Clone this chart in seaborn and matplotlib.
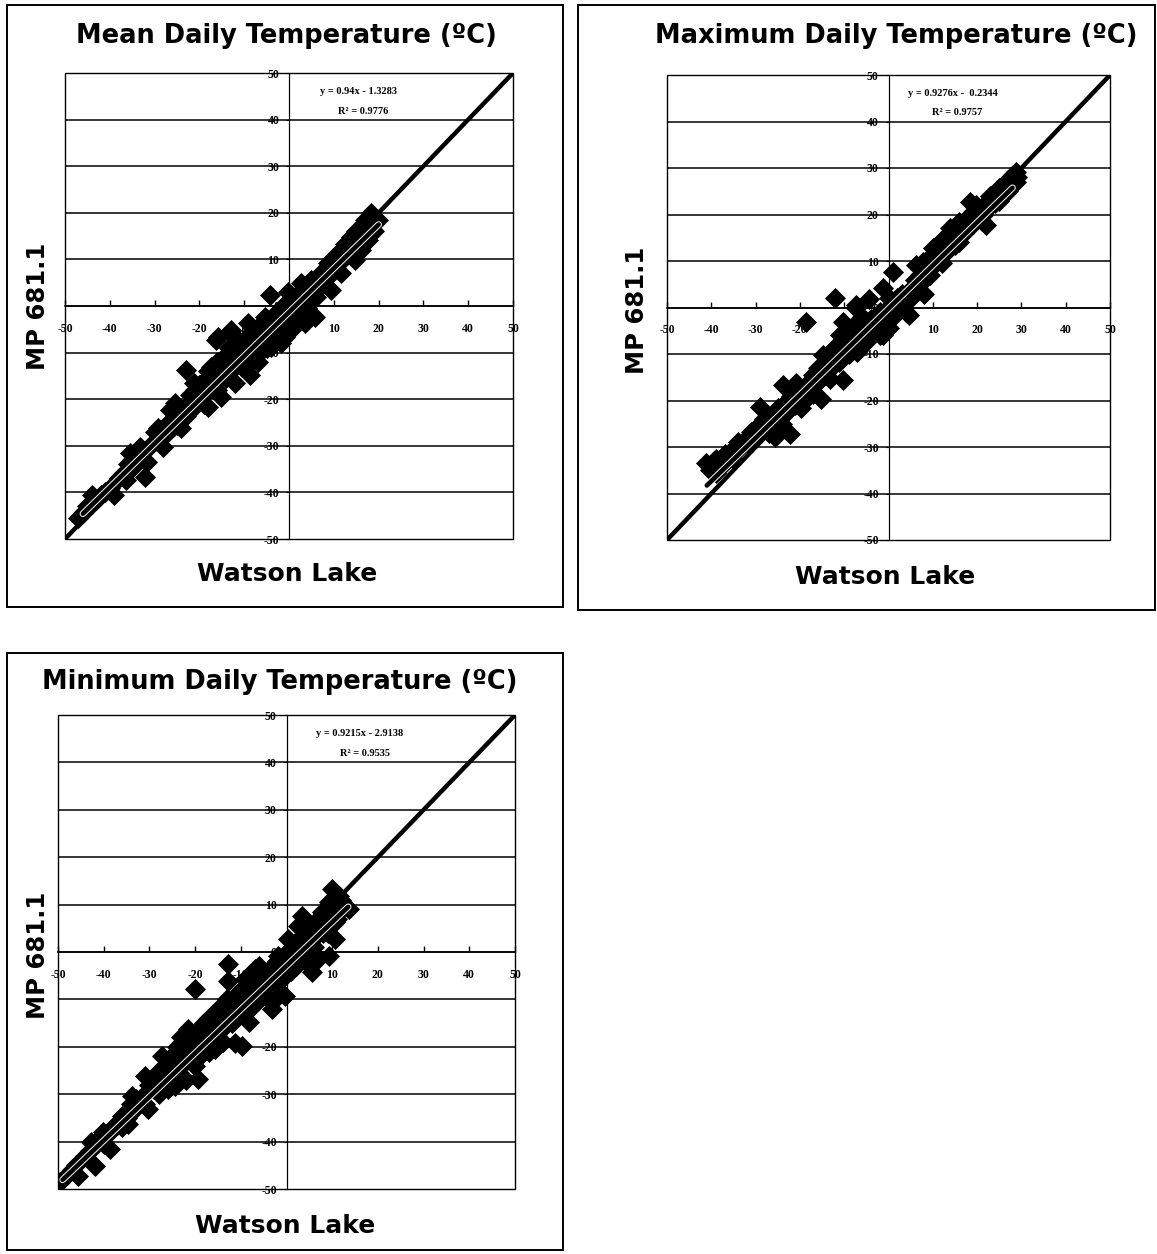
import matplotlib
matplotlib.use("Agg")
import matplotlib.pyplot as plt
import seaborn as sns
import pandas as pd
from matplotlib import patheffects as pe
from matplotlib.patches import Rectangle

# ---------------- data ----------------
mean_x = [-47, -46, -45, -44, -43, -42, -41, -39, -38, -37, -36.3, -35.6, -35, -34.8, -34, -33.3,
          -32.2, -31.8, -31, -30, -29.2, -28.1, -28, -27, -26.6, -26, -25.5, -25, -24, -24, -23,
          -22.9, -22, -21.1, -21, -20, -20, -19, -18.8, -18.1, -18, -17.3, -17, -16.2, -16, -15.8,
          -15.1, -15, -14.4, -14, -13.5, -12.9, -12.9, -12.1, -12, -11.4, -11, -10.5, -10, -9.9,
          -9.2, -9, -8.8, -8.4, -8, -7.5, -6.9, -6.9, -6, -5.4, -5, -4.3, -4, -4, -3, -2.5, -2,
          -1.7, -1, -1, -0.2, 0, 0.5, 1, 1.3, 2, 2.7, 3, 3.5, 4, 4.2, 5, 5.7, 6, 7.2, 8, 8.7, 9.4,
          10, 10.9, 11.7, 12, 12.4, 13, 13.9, 14.7, 15, 16.1, 16.1, 16.9, 17.6, 18, 18.4, 19, 19.9,
          -44, -40, -36, -33, -30, -29, -27, -26, -25, -23, -22, -21, -19, -19, -18, -17, -16, -16,
          -15, -14, -13, -13, -12, -11, -10, -9, -8, -7, -7, -6, -5, -4, -3, -3, -2, -1, 0, 1, 2, 3,
          4, 5, 6, 7, 9, 11, 12, 14, 15, 17, 18, 19]
mean_y = [-45.5, -44.5, -43, -40.6, -41.6, -40.5, -40, -40.6, -37, -36, -37.3, -31.6, -33, -34.5, -32, -30.2,
          -36.6, -33.4, -30, -29, -26.2, -30.2, -27.5, -25, -22.3, -24.5, -20.9, -23, -26.2, -22, -21.5,
          -13.7, -19, -16.6, -20.5, -19, -17, -16, -18, -21.6, -14, -13, -17.5, -7.3, -12, -6.6,
          -19.5, -15, -10.9, -13.5, -9, -5.9, -5.2, -16.6, -12, -7.3, -10, -13, -8, -10.2,
          -3.7, -12, -14.8, -5.9, -8.5, -11, -8, -4.4, -6, -2.3, -9, 2.4, -8.7, -3, -5, -5.9, -2,
          -8, -6.6, -3, 3.1, -1, -5.2, -2, 2, 0, 4.9, 1, -3.7, 2.5, 0.6, 3, -2.3, 5, 7, 6, 9.2, 3.4,
          8, 11.3, 7, 10, 13.4, 11, 14.9, 9.9, 13, 12, 16.3, 18.5, 14.2, 17, 19.9, 16, 18.5,
          -42.5, -39, -34, -31.5, -27, -28.5, -27, -26, -25.5, -23.5, -22.5, -18, -19, -21, -17, -15, -15.5, -18,
          -12.5, -15.5, -11, -14, -9.5, -12, -10, -7, -10, -6.5, -12, -9.5, -6.5, -4.5, -7, -1.5, -4, 0.5, -3.5, 0.5, -2.5, 3.5,
          -0.5, 5.5, 2, 4, 6.5, 9, 12, 12.5, 16, 15.5, 18.5, 18]

max_x = [-41.2, -40.4, -39.5, -38.9, -38, -37, -36, -35, -33.6, -32, -31.8, -31, -30, -29.1, -29.1,
         -28, -27, -26, -25.7, -25, -25, -24, -23.9, -23, -22.3, -22, -21, -20.8, -20, -19.7, -18.6,
         -18, -17.1, -17, -16, -15.2, -15, -14.8, -14, -13.3, -13, -12, -12, -11.1, -11, -10.3,
         -10.3, -10, -9.5, -9, -8, -8, -7.3, -7.3, -7, -6.5, -6, -5, -5, -4.3, -4, -3, -2.8, -2,
         -1.3, -1.3, -1, 0, 0.2, 1, 1, 2, 2.5, 3, 4, 4.7, 5, 6, 6.2, 7, 7.8, 8, 9, 9.3, 10, 10, 11,
         12, 12.3, 13, 13.8, 14, 15, 16, 16, 17, 18, 18.3, 19, 19.8, 20, 21, 21.3, 22, 22.8, 23, 24,
         25, 25, 26, 26.6, 27, 27.3, 28, 28.8, 28.8, 29,
         -39, -37, -35, -34, -30, -28, -27, -26, -24, -23, -21, -19, -18, -16, -14, -13, -12, -11,
         -9, -8, -7, -6, -5, -4, -3, -2, -1, 0, 1, 2, 3, 4, 5, 6, 7, 8, 9, 11, 12, 13, 14, 15, 16,
         17, 18, 19, 20, 21, 22, 23, 24, 25, 26, 27, 28]
max_y = [-33.5, -35, -33, -32.5, -34, -31.4, -32, -30.5, -30.3, -29, -27.8, -26.7, -28, -21.4, -25.3,
         -26, -24.5, -23, -27.8, -25.7, -21.7, -23, -16.7, -20, -27.1, -19, -21, -16.3, -18, -21.7, -3.1,
         -16, -14.6, -18.5, -13, -19.6, -15, -10.3, -12, -15.3, -10, 2, -11, -11.7, -6, -15.6,
         -3.1, -8, -6.7, -10, -4, -8, -0.2, 0.5, -6, -4.5, -8, -7.4, -3, 1.9, -5, -2, -2.4, -6,
         -6, 4.1, -1, 0, -4.5, 7.7, -2, 2, 1.2, 3, -1, -1.6, 4, 6, 9.1, 5, 9.8, 3, 8, 6.9, 12.7, 9, 10,
         11, 14.8, 12, 17, 13, 15, 18.4, 14, 16, 17, 22.7, 18, 22, 19, 20, 19.9, 17.7, 23.4, 22, 22.5,
         25.6, 24, 24.5, 26.3, 25, 27.7, 27, 29.2, 27, 28,
         -35.5, -33.5, -32.5, -29, -26, -24, -27, -25.5, -25, -22.5, -18.5, -17.5, -19, -16, -14.5, -13, -8.5, -9,
         -7.5, -6, -9.5, -2, -5, -2.5, -4, -1, -3.5, 2, 0, -0.5, 1, 3, 2, 4, 7, 7, 10.5, 12, 9.5, 14, 15.5, 13.5, 16,
         17.5, 19.5, 20.5, 21, 18.5, 21, 24, 24, 23, 26, 27.5, 28.5]

min_x = [-49.6, -48, -47, -45.6, -44, -42.7, -42, -41, -40.1, -38.7, -38, -37, -36.1, -35, -34.6, -34,
         -33.9, -33, -32, -31, -31, -30.3, -30, -29, -28.1, -28, -27.3, -27, -26, -26, -25, -25,
         -24.4, -24, -23, -23, -22, -22, -21.5, -21, -20, -20, -19.3, -19, -18, -17.8, -17.1, -17,
         -16, -15.6, -15, -14, -13.1, -13, -12.7, -12.7, -12, -11.3, -11, -10, -9.8, -9.1, -9, -8.3,
         -8, -7, -6.9, -6.1, -6, -5, -4, -3.2, -3.2, -3, -2, -1.8, -1.8, -1, -0.3, 0, 0.4, 0.4, 1,
         1.9, 2, 2.6, 3, 3.4, 4, 4.8, 5, 5.5, 6, 7, 7, 7.7, 8, 9, 9.2, 9.2, 9.9, 10, 10.7, 10.7, 11,
         11.4, 12, 12.9, 13.6,
         -46, -43, -40, -39, -36, -33, -31, -29, -28, -27, -26, -25, -24, -23, -22, -21, -20, -20,
         -19, -18, -17, -16, -15, -14, -14, -13, -12, -11, -10, -9, -8, -7, -6, -5, -4, -3, -2, -1,
         0, 1, 2, 3, 4, 5, 6, 7, 8, 9, 10, 11, 12]
min_y = [-48.6, -47, -46, -47.2, -43, -40.1, -45.1, -39.5, -38, -41.6, -37, -36.5, -34.5, -35, -36.3, -32,
         -30.3, -33, -31, -26.1, -30, -33.1, -28, -29, -28.2, -25, -21.9, -27, -24, -29, -22, -26,
         -28.2, -20, -24, -18, -22, -27, -16.2, -20, -7.8, -24, -26.8, -18, -15, -18.4, -14.1, -21,
         -17, -20.5, -12, -16, -9.9, -14, -2.5, -6.1, -12, -19.1, -9, -12, -19.8, -5.7, -10, -14.8,
         -7, -11, -3.6, -2.9, -8, -6, -4, -12, -10.6, -6, -2, -9.2, -0.8, -5.7, -9.2, -3, 2.7, -0.1, -1,
         1.3, -3, 5.5, 0, 7.7, 2, 4.9, -1, -4.3, 3, -1.5, 5, 8.4, 4, 7, -0.8, 10.5, 13.3, 8, 2.7, 6.3, 10,
         11.9, 9, 9.8, 9.1,
         -45, -42, -40.5, -38.5, -37, -31, -32, -27, -30, -24.5, -26.5, -28, -23, -26, -19.5, -23, -21, -17,
         -22, -20, -17, -14, -16, -13, -19, -11, -15, -13, -8, -13, -10, -8, -5, -9, -7, -3, -6, -2,
         0, -4, 1, 3, -2, 5, 1, 7, 6, 4, 11, 7, 11]

titles = ["Mean Daily Temperature (\u00baC)", "Maximum Daily Temperature (\u00baC)",
          "Minimum Daily Temperature (\u00baC)"]
slopes = [0.94, 0.9276, 0.9215]
intercepts = [-1.3283, -0.2344, -2.9138]
eq_texts = ["y = 0.94x - 1.3283", "y = 0.9276x -  0.2344", "y = 0.9215x - 2.9138"]
r2_texts = ["R\u00b2 = 0.9776", "R\u00b2 = 0.9757", "R\u00b2 = 0.9535"]
fit_ranges = [(-46, 20), (-41, 28), (-49, 13.5)]
tick_values = [-50, -40, -30, -20, -10, 0, 10, 20, 30, 40, 50]
x_label = "Watson Lake"
y_label = "MP 681.1"

series = [(mean_x, mean_y), (max_x, max_y), (min_x, min_y)]

# ---------------- layout (pixels of the 1157x1254 image) ----------------
W, H = 1157, 1254
layout = [
    dict(border=(7, 5, 563, 607), axes=(65, 73, 513, 539), title=(286, 36), ylab=(38, 306), xlab=(287, 574),
         eq=(15.5, 46), r2=(16.5, 41.8)),
    dict(border=(578, 5, 1155, 610), axes=(667, 75, 1110, 540), title=(896, 36), ylab=(637, 310), xlab=(885, 577),
         eq=(14.6, 46.1), r2=(15.4, 42)),
    dict(border=(7, 653, 563, 1250), axes=(58, 715, 515, 1189), title=(280, 682), ylab=(38, 955), xlab=(285, 1226),
         eq=(15.9, 46.2), r2=(17.1, 41.8)),
]

sns.set_theme(style="white")
plt.rcParams["font.family"] = ["DejaVu Sans"]

fig = plt.figure(figsize=(W / 100, H / 100), dpi=100)
fig.patch.set_facecolor("white")

serif = ["Liberation Serif", "DejaVu Serif"]

for i, lay in enumerate(layout):
    bx0, by0, bx1, by1 = lay["border"]
    fig.patches.append(Rectangle((bx0 / W, 1 - by1 / H), (bx1 - bx0) / W, (by1 - by0) / H,
                                 transform=fig.transFigure, fill=False, ec="black", lw=1.4))
    ax0, ay0, ax1, ay1 = lay["axes"]
    ax = fig.add_axes([ax0 / W, 1 - ay1 / H, (ax1 - ax0) / W, (ay1 - ay0) / H])
    ax.set_facecolor("white")
    ax.set_xlim(-50, 50)
    ax.set_ylim(-50, 50)

    for v in tick_values[1:-1]:
        ax.axhline(v, color="black", lw=1.1, zorder=1)
    ax.axvline(0, color="black", lw=0.8, zorder=1)

    ax.plot([-50, 50], [-50, 50], color="black", lw=3.2, zorder=2, solid_capstyle="butt")

    xs, ys = series[i]
    df = pd.DataFrame({"x": xs, "y": ys})
    sns.scatterplot(data=df, x="x", y="y", marker="D", s=115, color="black",
                    linewidth=0, ax=ax, zorder=3, legend=False)

    fx0, fx1 = fit_ranges[i]
    ax.plot([fx0, fx1], [slopes[i] * fx0 + intercepts[i], slopes[i] * fx1 + intercepts[i]],
            color="black", lw=3.4, zorder=4, solid_capstyle="round",
            path_effects=[pe.Stroke(linewidth=4.8, foreground="white"), pe.Normal()])

    # centred axes
    ax.spines["left"].set_position(("data", 0))
    ax.spines["bottom"].set_position(("data", 0))
    ax.spines["right"].set_visible(False)
    ax.spines["top"].set_visible(False)
    ax.spines["left"].set_linewidth(0.8)
    ax.spines["bottom"].set_linewidth(1.1)
    for s in ("left", "bottom"):
        ax.spines[s].set_color("black")
    ax.add_patch(Rectangle((0, 0), 1, 1, transform=ax.transAxes, fill=False, ec="black", lw=1.0,
                           zorder=5, clip_on=False))

    ax.set_xticks(tick_values)
    ax.set_xticklabels(["" if v == 0 else str(v) for v in tick_values])
    ax.set_yticks(tick_values)
    ax.set_yticklabels([str(v) for v in tick_values])
    ax.tick_params(axis="x", direction="in", length=4, width=1, color="black", pad=12, bottom=True)
    ax.tick_params(axis="y", direction="out", length=2, width=0.8, color="black", pad=5, left=True)
    for lab in ax.get_xticklabels() + ax.get_yticklabels():
        lab.set_fontfamily(serif)
        lab.set_fontweight("bold")
        lab.set_fontsize(8.5)
        lab.set_color("black")
    ax.set_xlabel("")
    ax.set_ylabel("")
    ax.grid(False)

    ax.text(lay["eq"][0], lay["eq"][1], eq_texts[i], ha="center", va="center", fontsize=7.5,
            fontweight="bold", family=serif, color="black", zorder=6)
    ax.text(lay["r2"][0], lay["r2"][1], r2_texts[i], ha="center", va="center", fontsize=7.5,
            fontweight="bold", family=serif, color="black", zorder=6)

    tx, ty = lay["title"]
    fig.text(tx / W, 1 - ty / H, titles[i], ha="center", va="center", fontsize=18.5, fontweight="bold",
             color="black")
    lx, ly = lay["ylab"]
    fig.text(lx / W, 1 - ly / H, y_label, ha="center", va="center", rotation=90, fontsize=17.5,
             fontweight="bold", color="black")
    xx, xy = lay["xlab"]
    fig.text(xx / W, 1 - xy / H, x_label, ha="center", va="center", fontsize=18, fontweight="bold",
             color="black")

fig.savefig("out.png", dpi=100, facecolor="white")
